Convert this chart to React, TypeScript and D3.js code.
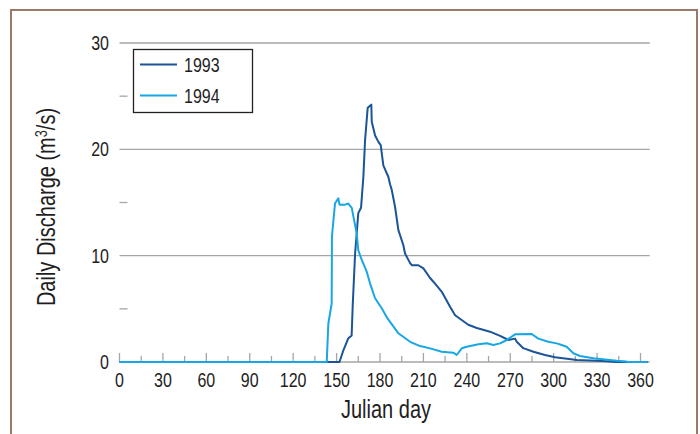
import React from "react";
import * as d3 from "d3";

const days1993 = [0, 152, 154.7, 158, 160.4, 161.2, 162.8, 165, 166.9, 168.5, 169.7, 171.5, 174, 174.3, 176.6, 178.9, 180.5, 182.3, 185.8, 187, 188.1, 190.4, 192.7, 196.1, 197.3, 200.8, 202, 206.5, 210, 214.6, 216.9, 222.7, 228.4, 231.9, 241, 246.9, 256, 263, 268.7, 273.3, 274.5, 279, 286, 294, 301, 316, 334, 343, 365];
const values1993 = [0, 0, 1.1, 2.2, 2.5, 5.5, 10.2, 14, 14.5, 17.4, 20.9, 23.9, 24.2, 22.6, 21.3, 20.7, 20.4, 18.5, 17.4, 16.7, 16.2, 14.6, 12.4, 11.0, 10.2, 9.3, 9.1, 9.1, 8.8, 7.9, 7.55, 6.6, 5.2, 4.4, 3.5, 3.2, 2.85, 2.45, 2.07, 2.2, 1.9, 1.3, 0.97, 0.66, 0.44, 0.19, 0.1, 0, 0];

const days1994 = [0, 143.2, 144.3, 146.6, 146.8, 148.9, 151.2, 152, 155.8, 158.1, 160.5, 161.6, 163.9, 165, 167.4, 170.8, 173.1, 176.6, 181.2, 184.7, 192.7, 200.8, 207.7, 214.6, 222.7, 230.7, 233, 236.5, 240, 248, 253.8, 258.3, 263, 267.6, 273.3, 284.8, 289.4, 296.3, 302.1, 305.5, 309, 313.6, 318.2, 327.4, 343.6, 350, 351, 365];
const values1994 = [0, 0, 3.6, 5.5, 11.8, 14.9, 15.4, 14.8, 14.8, 14.9, 14.5, 13.7, 12.1, 10.5, 9.6, 8.5, 7.4, 6.0, 5.05, 4.2, 2.7, 1.9, 1.5, 1.28, 0.97, 0.88, 0.66, 1.29, 1.44, 1.66, 1.76, 1.6, 1.75, 2.07, 2.6, 2.63, 2.2, 1.9, 1.75, 1.6, 1.44, 0.82, 0.56, 0.35, 0.12, 0.05, 0, 0];

const xTicks = [0, 30, 60, 90, 120, 150, 180, 210, 240, 270, 300, 330, 360];
const yTicks = [0, 10, 20, 30];
const yMinorTicks = [5, 15, 25];
const seriesNames = ["1993", "1994"];
const seriesColors = ["#1b5497", "#18a6e4"];

const W = 700;
const H = 434;
const FONT = "'Liberation Sans', Arial, sans-serif";
const SQUEEZE = 0.8;

type TProps = {
  x: number;
  y: number;
  size: number;
  anchor?: "start" | "middle" | "end";
  rotate?: number;
  children: React.ReactNode;
};

function NarrowText({ x, y, size, anchor = "start", rotate = 0, children }: TProps) {
  return (
    <text
      transform={`translate(${x},${y}) rotate(${rotate}) scale(${SQUEEZE},1)`}
      textAnchor={anchor}
      fontFamily={FONT}
      fontSize={size}
      fill="#1e1e1e"
    >
      {children}
    </text>
  );
}

export default function App() {
  const x = d3.scaleLinear().domain([0, 360]).range([119.5, 640.5]);
  const y = d3.scaleLinear().domain([0, 30]).range([362, 43]);
  const line = d3
    .line<[number, number]>()
    .x((d) => x(d[0]))
    .y((d) => y(d[1]))
    .curve(d3.curveLinear);

  const s1993: [number, number][] = days1993.map((d, i) => [d, values1993[i]]);
  const s1994: [number, number][] = days1994.map((d, i) => [d, values1994[i]]);
  const allSeries = [s1993, s1994];

  const minorX = d3.range(15, 365, 30);
  const gridEnd = x(365) + 2;

  return (
    <svg width={W} height={H} style={{ position: "absolute", left: 0, top: 0, background: "#fff" }}>
      <rect x={11} y={10} width={686} height={440} fill="#fff" stroke="#9c7867" strokeWidth={2} />
      {/* gridlines */}
      {yTicks.filter((t) => t > 0).map((t) => (
        <line key={"g" + t} x1={x(0)} x2={gridEnd} y1={y(t)} y2={y(t)} stroke="#a6a6a6" strokeWidth={1.3} />
      ))}
      {yMinorTicks.map((t) => (
        <line key={"m" + t} x1={x(0)} x2={x(0) + 8} y1={y(t)} y2={y(t)} stroke="#a6a6a6" strokeWidth={1.3} />
      ))}
      {/* x axis */}
      <line x1={x(0)} x2={gridEnd} y1={y(0)} y2={y(0)} stroke="#a6a6a6" strokeWidth={1.5} />
      {xTicks.map((t) => (
        <line key={"xt" + t} x1={x(t)} x2={x(t)} y1={y(0)} y2={y(0) - 9} stroke="#a6a6a6" strokeWidth={1.3} />
      ))}
      {minorX.map((t) => (
        <line key={"xm" + t} x1={x(t)} x2={x(t)} y1={y(0)} y2={y(0) - 6} stroke="#a6a6a6" strokeWidth={1.3} />
      ))}
      {/* series */}
      {allSeries.map((s, i) => (
        <path key={"s" + i} d={line(s) || ""} fill="none" stroke={seriesColors[i]} strokeWidth={2} strokeLinejoin="round" />
      ))}
      {/* tick labels */}
      {xTicks.map((t) => (
        <NarrowText key={"xl" + t} x={x(t)} y={387} size={20} anchor="middle">
          {t}
        </NarrowText>
      ))}
      {yTicks.map((t) => (
        <NarrowText key={"yl" + t} x={109} y={y(t) + 7} size={20} anchor="end">
          {t}
        </NarrowText>
      ))}
      {/* axis titles */}
      <NarrowText x={386} y={418} size={25} anchor="middle">
        Julian day
      </NarrowText>
      <NarrowText x={55} y={207} size={25} anchor="middle" rotate={-90}>
        Daily Discharge (m<tspan dy={-8} fontSize={16}>3</tspan>
        <tspan dy={8}>/s)</tspan>
      </NarrowText>
      {/* legend */}
      <rect x={133.5} y={49.5} width={119} height={63} fill="#fff" stroke="#222" strokeWidth={1.3} />
      {seriesNames.map((n, i) => (
        <g key={"lg" + n}>
          <line x1={140} x2={177} y1={64.5 + i * 31} y2={64.5 + i * 31} stroke={seriesColors[i]} strokeWidth={2.2} />
          <NarrowText x={184} y={71.5 + i * 31} size={20}>
            {n}
          </NarrowText>
        </g>
      ))}
    </svg>
  );
}
